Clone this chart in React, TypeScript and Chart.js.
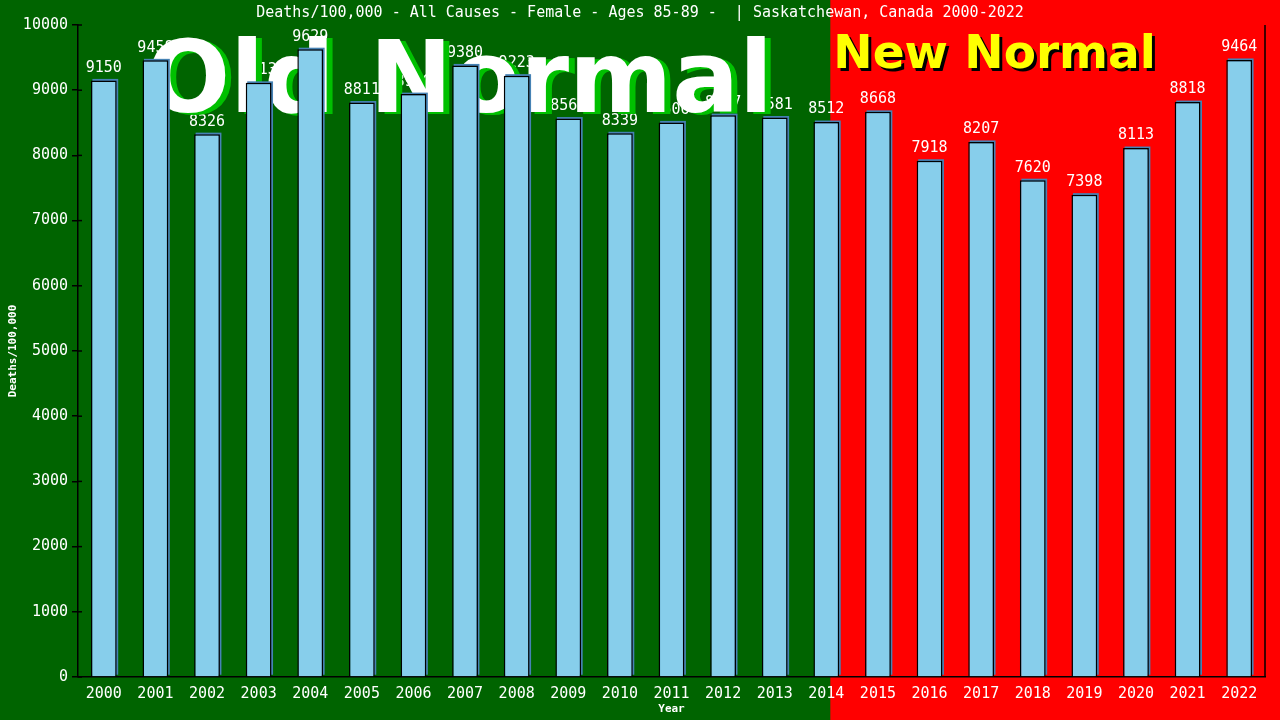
import React, { useEffect, useRef } from 'react';
import { Chart, registerables } from 'chart.js';

Chart.register(...registerables);

const years = [
  '2000', '2001', '2002', '2003', '2004', '2005', '2006', '2007', '2008', '2009', '2010', '2011',
  '2012', '2013', '2014', '2015', '2016', '2017', '2018', '2019', '2020', '2021', '2022',
];
const deathRates = [
  9150, 9458, 8326, 9113, 9629, 8811, 8940, 9380, 9223, 8565, 8339, 8506,
  8617, 8581, 8512, 8668, 7918, 8207, 7620, 7398, 8113, 8818, 9464,
];
const chartTitle = 'Deaths/100,000 - All Causes - Female - Ages 85-89 -  | Saskatchewan, Canada 2000-2022';
const yTitle = 'Deaths/100,000';
const xTitle = 'Year';
const oldLabel = 'Old Normal';
const newLabel = 'New Normal';
const lastOldIndex = 14;

const MONO = '"DejaVu Sans Mono", "Liberation Mono", monospace';
const SANS = '"DejaVu Sans", "Noto Sans", sans-serif';

// background halves, value labels, big captions (under the bars), bar shadows
const decorPlugin = {
  id: 'decor',
  beforeDraw(chart: any) {
    const { ctx, width, height, scales } = chart;
    const split = scales.x.getPixelForValue(lastOldIndex) + 4;
    ctx.save();
    ctx.fillStyle = '#006400';
    ctx.fillRect(0, 0, width, height);
    ctx.fillStyle = '#ff0000';
    ctx.fillRect(split, 0, width - split, height);
    ctx.restore();
  },
  beforeDatasetsDraw(chart: any) {
    const { ctx, chartArea, scales } = chart;
    const split = scales.x.getPixelForValue(lastOldIndex) + 4;
    const meta = chart.getDatasetMeta(0);
    ctx.save();

    // value labels sit beneath the captions
    ctx.fillStyle = '#ffffff';
    ctx.font = `15px ${MONO}`;
    ctx.textAlign = 'center';
    ctx.textBaseline = 'bottom';
    meta.data.forEach((bar: any, i: number) => {
      ctx.fillText(String(deathRates[i]), bar.x, bar.y - 5);
    });

    // Old Normal
    ctx.font = `bold 99px ${SANS}`;
    ctx.textAlign = 'left';
    ctx.textBaseline = 'alphabetic';
    ctx.fillStyle = '#00c000';
    ctx.fillText(oldLabel, 152, 114);
    ctx.fillStyle = '#ffffff';
    ctx.fillText(oldLabel, 146, 112);
    // New Normal
    ctx.font = `bold 47px ${SANS}`;
    ctx.fillStyle = '#000000';
    ctx.fillText(newLabel, split + 6, 71);
    ctx.fillStyle = '#ffff00';
    ctx.fillText(newLabel, split + 3, 68);

    // bar shadows
    ctx.fillStyle = '#4682b4';
    meta.data.forEach((bar: any) => {
      const w = bar.width;
      const h = bar.base - bar.y;
      ctx.fillRect(bar.x - w / 2 + 1.5, bar.y - 1.5, w, h);
    });

    // right frame line
    ctx.strokeStyle = '#000000';
    ctx.lineWidth = 1.5;
    ctx.beginPath();
    ctx.moveTo(chartArea.right, chartArea.top);
    ctx.lineTo(chartArea.right, chartArea.bottom);
    ctx.stroke();

    // y tick marks crossing the axis
    scales.y.ticks.forEach((t: any) => {
      const y = scales.y.getPixelForValue(t.value);
      ctx.beginPath();
      ctx.moveTo(chartArea.left, y);
      ctx.lineTo(chartArea.left + 4, y);
      ctx.stroke();
    });
    ctx.restore();
  },
  afterDatasetsDraw(chart: any) {
    const { ctx, width, chartArea } = chart;
    ctx.save();
    ctx.fillStyle = '#ffffff';
    ctx.textAlign = 'center';

    // chart title
    ctx.textBaseline = 'middle';
    ctx.font = `15px ${MONO}`;
    ctx.fillText(chartTitle, width / 2, 13);

    // axis titles
    ctx.font = `bold 11px ${MONO}`;
    ctx.fillText(xTitle, (chartArea.left + chartArea.right) / 2, 709);
    ctx.translate(13, (chartArea.top + chartArea.bottom) / 2);
    ctx.rotate(-Math.PI / 2);
    ctx.fillText(yTitle, 0, 0);
    ctx.restore();
  },
};

const DeathsChart = () => {
  const canvasRef = useRef<HTMLCanvasElement>(null);
  const chartInstance = useRef<Chart | null>(null);

  useEffect(() => {
    if (!canvasRef.current) return;
    const ctx = canvasRef.current.getContext('2d');
    if (!ctx) return;

    if (chartInstance.current) {
      chartInstance.current.destroy();
      chartInstance.current = null;
    }

    chartInstance.current = new Chart(ctx, {
      type: 'bar',
      data: {
        labels: years,
        datasets: [{
          data: deathRates,
          backgroundColor: '#87ceeb',
          borderColor: '#000000',
          borderWidth: 1.5,
          borderSkipped: 'bottom',
          barPercentage: 0.5,
          categoryPercentage: 1,
        }],
      },
      options: {
        animation: false,
        responsive: false,
        devicePixelRatio: 1,
        layout: { padding: { top: 25, right: 15, left: 0, bottom: 0 } },
        plugins: {
          legend: { display: false },
          tooltip: { enabled: false },
          title: { display: false },
        },
        scales: {
          x: {
            grid: { display: false },
            border: { display: true, color: '#000000', width: 1.5 },
            ticks: {
              color: '#ffffff',
              font: { family: MONO, size: 15 },
              padding: 0,
              maxRotation: 0,
              autoSkip: false,
            },
            afterFit: (scale: any) => { scale.height = 43; },
          },
          y: {
            min: 0,
            max: 10000,
            grid: {
              display: true,
              drawOnChartArea: false,
              drawTicks: true,
              tickLength: 6,
              color: '#000000',
              lineWidth: 1.5,
            },
            border: { display: true, color: '#000000', width: 1.5 },
            ticks: {
              stepSize: 1000,
              color: '#ffffff',
              font: { family: MONO, size: 15 },
              padding: 4,
              callback: (v: any) => String(v),
            },
            afterFit: (scale: any) => { scale.width = 78; },
          },
        },
      },
      plugins: [decorPlugin],
    });

    return () => {
      if (chartInstance.current) {
        chartInstance.current.destroy();
        chartInstance.current = null;
      }
    };
  }, []);

  return (
    <div style={{ position: 'fixed', left: 0, top: 0, width: 1280, height: 720 }}>
      <canvas ref={canvasRef} width={1280} height={720} style={{ display: 'block' }} />
    </div>
  );
};

export default function App() {
  return <DeathsChart />;
}
